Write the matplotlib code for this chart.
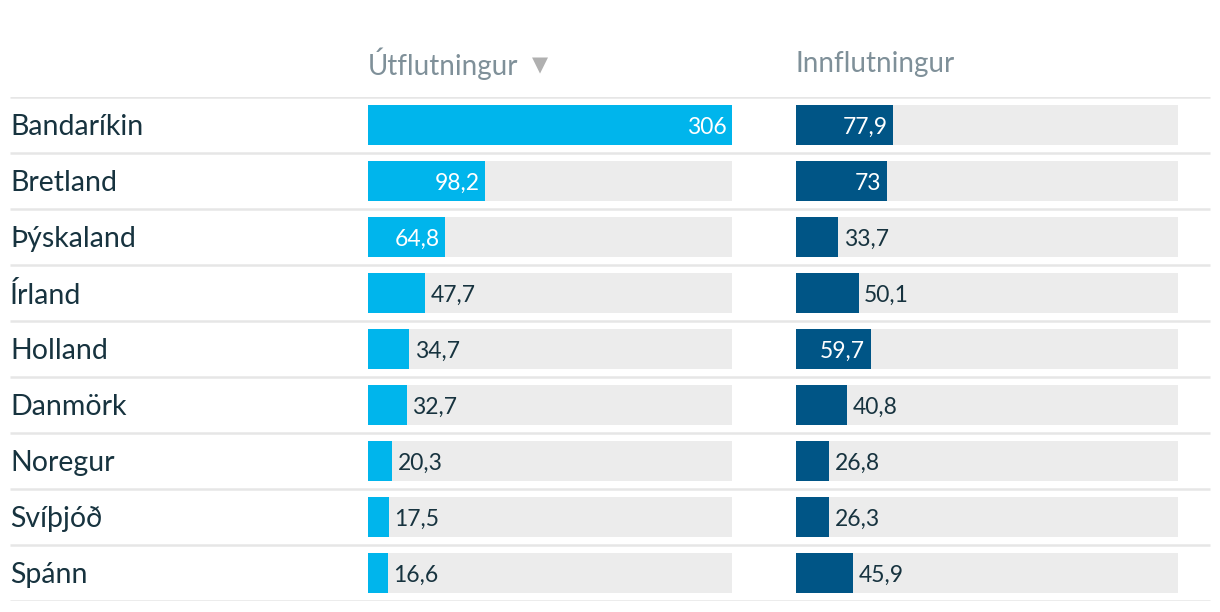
import matplotlib
matplotlib.use("Agg")
import matplotlib.pyplot as plt

# Gögn (milljarðar kr.)
countries = ["Bandaríkin", "Bretland", "Þýskaland", "Írland", "Holland",
             "Danmörk", "Noregur", "Svíþjóð", "Spánn"]
export_vals = [306, 98.2, 64.8, 47.7, 34.7, 32.7, 20.3, 17.5, 16.6]
import_vals = [77.9, 73, 33.7, 50.1, 59.7, 40.8, 26.8, 26.3, 45.9]
headers = ["Útflutningur", "Innflutningur"]
vmax = 306

W, H = 1220, 612
plt.rcParams['font.family'] = ['Lato', 'DejaVu Sans']

fig = plt.figure(figsize=(W / 100, H / 100), dpi=100)

n = len(countries)
top_px, row_px = 97, 56
bottom = (H - (top_px + n * row_px)) / H
height = n * row_px / H

# bakgrunnur: línur og landaheiti
bg = fig.add_axes([0, bottom, 1, height])
bg.set_xlim(0, W)
bg.set_ylim(n - 0.5, -0.5)
bg.axis('off')
for i in range(n + 1):
    bg.plot([10, 1210], [i - 0.5, i - 0.5], color='#e6e6e6', lw=1.8, solid_capstyle='butt')
for i, c in enumerate(countries):
    bg.text(10, i + 0.04, c, fontsize=20.5, color='#17333f', va='center', ha='left')


def bar_col(left_px, width_px, vals, color, title, arrow=False):
    ax = fig.add_axes([left_px / W, bottom, width_px / W, height])
    ax.set_xlim(0, vmax)
    ax.set_ylim(n - 0.5, -0.5)
    ax.axis('off')
    ys = range(n)
    ax.barh(ys, [vmax] * n, height=40 / 56, color='#ececec', left=0)
    ax.barh(ys, vals, height=40 / 56, color=color)
    px_per = width_px / vmax
    for y, v in zip(ys, vals):
        txt = f"{v:g}".replace('.', ',')
        if v * px_per > 70:
            ax.annotate(txt, (v, y + 0.04), xytext=(-4, 0), textcoords='offset points',
                        ha='right', va='center', fontsize=16.5, color='white')
        else:
            ax.annotate(txt, (v, y + 0.04), xytext=(4, 0), textcoords='offset points',
                        ha='left', va='center', fontsize=16.5, color='#17333f')
    fig.text(left_px / W, 1 - 64 / H, title, fontsize=20, color='#7f9099',
             ha='left', va='center')
    if arrow:
        fig.text(532 / W, 1 - 65 / H, '▼', fontsize=15, color='#b0b0b0',
                 ha='left', va='center', family='DejaVu Sans')
    return ax


bar_col(368, 364, export_vals, '#00b5ec', headers[0], arrow=True)
bar_col(796, 382, import_vals, '#005586', headers[1])

fig.savefig('out.png', dpi=100, facecolor='white')
